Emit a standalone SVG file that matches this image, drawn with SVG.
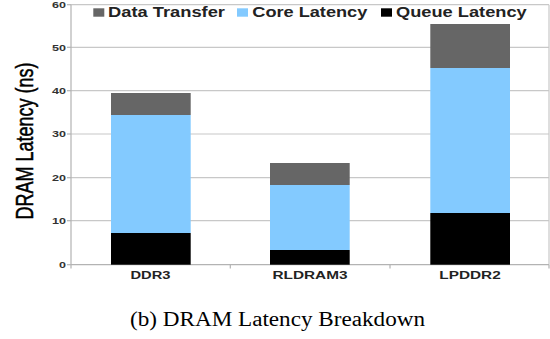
<svg xmlns="http://www.w3.org/2000/svg" width="550" height="339" viewBox="0 0 550 339">
<style>
.grid{stroke:#c8c8c8;stroke-width:1.2;fill:none}
.axis{stroke:#b3b3b3;stroke-width:1.2;fill:none}
.tick{font-family:"Liberation Sans",Arial,sans-serif;font-weight:bold;font-size:9.5px;fill:#333;text-anchor:end}
.leg{font-family:"Liberation Sans",Arial,sans-serif;font-weight:bold;font-size:14px;fill:#222}
.cat{font-family:"Liberation Sans",Arial,sans-serif;font-weight:bold;font-size:11.6px;fill:#222;text-anchor:middle}
.ttl{font-family:"Liberation Sans",Arial,sans-serif;font-weight:normal;font-size:23.5px;fill:#000;stroke:#000;stroke-width:0.5;text-anchor:middle}
.cap{font-family:"Liberation Serif","Times New Roman",serif;font-size:20px;fill:#000}
.dt{fill:#666666}
.cl{fill:#83caff}
.ql{fill:#000000}
</style>
<rect width="550" height="339" fill="#ffffff"/>
<g id="grid">
<line class="grid" x1="71" y1="47.3" x2="549" y2="47.3"/>
<line class="grid" x1="71" y1="90.7" x2="549" y2="90.7"/>
<line class="grid" x1="71" y1="134" x2="549" y2="134"/>
<line class="grid" x1="71" y1="177.7" x2="549" y2="177.7"/>
<line class="grid" x1="71" y1="220.7" x2="549" y2="220.7"/>
<line class="grid" x1="71" y1="4.7" x2="549" y2="4.7"/>
<line class="grid" x1="549" y1="4.7" x2="549" y2="264.7"/>
</g>
<g id="axes">
<line class="axis" x1="71" y1="4.7" x2="71" y2="264.7"/>
<line class="axis" x1="71" y1="264.7" x2="549" y2="264.7"/>
<line class="axis" x1="67" y1="4.7" x2="71" y2="4.7"/>
<line class="axis" x1="67" y1="47.3" x2="71" y2="47.3"/>
<line class="axis" x1="67" y1="90.7" x2="71" y2="90.7"/>
<line class="axis" x1="67" y1="134" x2="71" y2="134"/>
<line class="axis" x1="67" y1="177.7" x2="71" y2="177.7"/>
<line class="axis" x1="67" y1="220.7" x2="71" y2="220.7"/>
<line class="axis" x1="67" y1="264.7" x2="71" y2="264.7"/>
<line class="axis" x1="71" y1="264.7" x2="71" y2="268.5"/>
<line class="axis" x1="230.3" y1="264.7" x2="230.3" y2="268.5"/>
<line class="axis" x1="390" y1="264.7" x2="390" y2="268.5"/>
<line class="axis" x1="549" y1="264.7" x2="549" y2="268.5"/>
</g>
<g id="ticklabels">
<text class="tick" x="66" y="8.1" textLength="14" lengthAdjust="spacingAndGlyphs">60</text>
<text class="tick" x="66" y="50.7" textLength="14" lengthAdjust="spacingAndGlyphs">50</text>
<text class="tick" x="66" y="94.1" textLength="14" lengthAdjust="spacingAndGlyphs">40</text>
<text class="tick" x="66" y="137.4" textLength="14" lengthAdjust="spacingAndGlyphs">30</text>
<text class="tick" x="66" y="181.1" textLength="14" lengthAdjust="spacingAndGlyphs">20</text>
<text class="tick" x="66" y="224.1" textLength="14" lengthAdjust="spacingAndGlyphs">10</text>
<text class="tick" x="66" y="268.1" textLength="7" lengthAdjust="spacingAndGlyphs">0</text>
</g>
<g id="bar-ddr3">
<rect class="ql" x="111" y="233" width="79.7" height="31.7"/>
<rect class="cl" x="111" y="115" width="79.7" height="118"/>
<rect class="dt" x="111" y="93" width="79.7" height="22"/>
</g>
<g id="bar-rldram3">
<rect class="ql" x="270" y="250" width="79.7" height="14.7"/>
<rect class="cl" x="270" y="185" width="79.7" height="65"/>
<rect class="dt" x="270" y="163" width="79.7" height="22"/>
</g>
<g id="bar-lpddr2">
<rect class="ql" x="430.3" y="213" width="79.7" height="51.7"/>
<rect class="cl" x="430.3" y="68" width="79.7" height="145"/>
<rect class="dt" x="430.3" y="24" width="79.7" height="44"/>
</g>
<g id="legend">
<rect class="dt" x="93.3" y="8.3" width="11" height="8.4"/>
<text class="leg" x="108" y="16.7" textLength="117" lengthAdjust="spacingAndGlyphs">Data Transfer</text>
<rect class="cl" x="237" y="8.3" width="11" height="8.4"/>
<text class="leg" x="252.3" y="16.7" textLength="115" lengthAdjust="spacingAndGlyphs">Core Latency</text>
<rect class="ql" x="381" y="8.3" width="11" height="8.4"/>
<text class="leg" x="396" y="16.7" textLength="130.7" lengthAdjust="spacingAndGlyphs">Queue Latency</text>
</g>
<g id="categories">
<text class="cat" x="150.5" y="279" textLength="40" lengthAdjust="spacingAndGlyphs">DDR3</text>
<text class="cat" x="310" y="279" textLength="75" lengthAdjust="spacingAndGlyphs">RLDRAM3</text>
<text class="cat" x="470" y="279" textLength="61.4" lengthAdjust="spacingAndGlyphs">LPDDR2</text>
</g>
<text class="ttl" transform="translate(33,141) rotate(-90)" x="0" y="0" textLength="157" lengthAdjust="spacingAndGlyphs">DRAM Latency (ns)</text>
<text class="cap" x="130" y="326" textLength="295" lengthAdjust="spacingAndGlyphs">(b) DRAM Latency Breakdown</text>
</svg>
